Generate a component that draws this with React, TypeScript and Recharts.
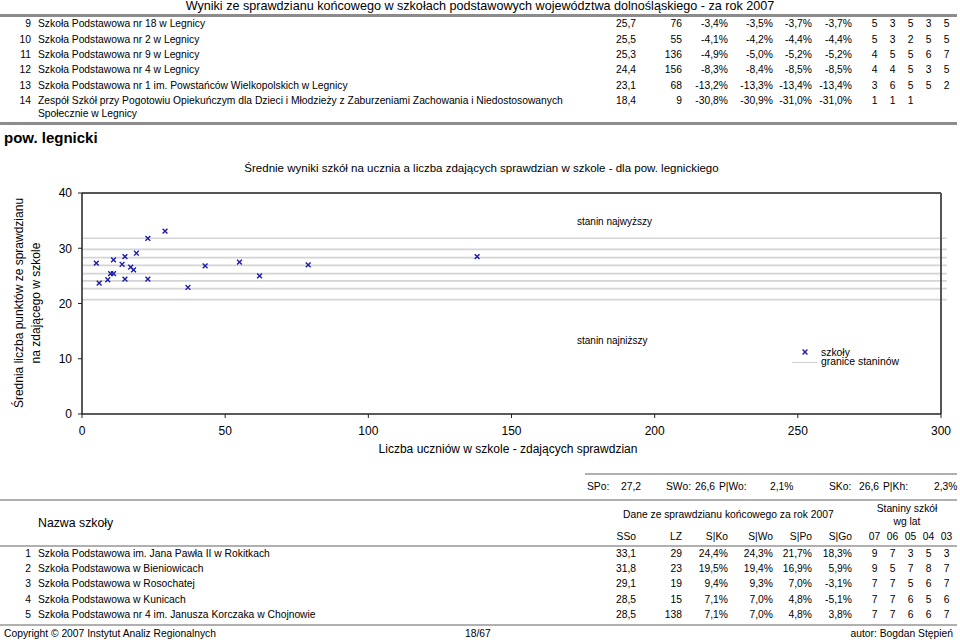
import React from 'react';
import { ScatterChart, Scatter, XAxis, YAxis, ReferenceLine } from 'recharts';

// chart data (pow. legnicki)
const pupils = [5, 6, 9, 10, 11, 11, 14, 15, 15, 17, 18, 19, 23, 23, 29, 37, 43, 55, 62, 79, 138];
const avgScore = [27.3, 23.7, 24.3, 25.4, 25.4, 27.9, 27.1, 28.5, 24.4, 26.6, 26.1, 29.1, 31.8, 24.4, 33.1, 22.9, 26.8, 27.5, 25.0, 27.0, 28.5];
const stanineBounds = [31.8, 29.8, 28.3, 26.9, 25.4, 24.1, 22.7, 20.7];
const xTicks = [0, 50, 100, 150, 200, 250, 300];
const yTicks = [0, 10, 20, 30, 40];

// tables
const topRows = [
    ['9', ['Szkoła Podstawowa nr 18 w Legnicy'], '25,7', '76', '-3,4%', '-3,5%', '-3,7%', '-3,7%', ['5', '3', '5', '3', '5']],
    ['10', ['Szkoła Podstawowa nr 2 w Legnicy'], '25,5', '55', '-4,1%', '-4,2%', '-4,4%', '-4,4%', ['5', '3', '2', '5', '5']],
    ['11', ['Szkoła Podstawowa nr 9 w Legnicy'], '25,3', '136', '-4,9%', '-5,0%', '-5,2%', '-5,2%', ['4', '5', '5', '6', '7']],
    ['12', ['Szkoła Podstawowa nr 4 w Legnicy'], '24,4', '156', '-8,3%', '-8,4%', '-8,5%', '-8,5%', ['4', '4', '5', '3', '5']],
    ['13', ['Szkoła Podstawowa nr 1 im. Powstańców Wielkopolskich w Legnicy'], '23,1', '68', '-13,2%', '-13,3%', '-13,4%', '-13,4%', ['3', '6', '5', '5', '2']],
    ['14', ['Zespół Szkół przy Pogotowiu Opiekuńczym dla Dzieci i Młodzieży z Zaburzeniami Zachowania i Niedostosowanych', 'Społecznie w Legnicy'], '18,4', '9', '-30,8%', '-30,9%', '-31,0%', '-31,0%', ['1', '1', '1']],
];
const topRowY = [24.3, 39.8, 55.2, 70.6, 86, 101.3];

const bottomRows = [
    ['1', ['Szkoła Podstawowa im. Jana Pawła II w Rokitkach'], '33,1', '29', '24,4%', '24,3%', '21,7%', '18,3%', ['9', '7', '3', '5', '3']],
    ['2', ['Szkoła Podstawowa w Bieniowicach'], '31,8', '23', '19,5%', '19,4%', '16,9%', '5,9%', ['9', '5', '7', '8', '7']],
    ['3', ['Szkoła Podstawowa w Rosochatej'], '29,1', '19', '9,4%', '9,3%', '7,0%', '-3,1%', ['7', '7', '5', '6', '7']],
    ['4', ['Szkoła Podstawowa w Kunicach'], '28,5', '15', '7,1%', '7,0%', '4,8%', '-5,1%', ['7', '7', '6', '5', '6']],
    ['5', ['Szkoła Podstawowa nr 4 im. Janusza Korczaka w Chojnowie'], '28,5', '138', '7,1%', '7,0%', '4,8%', '3,8%', ['7', '7', '6', '6', '7']],
];
const bottomRowY = [553.8, 569, 584.4, 599.7, 615.2];

const colHeads = ['SSo', 'LZ', 'S|Ko', 'S|Wo', 'S|Po', 'S|Go'];
const yearHeads = ['07', '06', '05', '04', '03'];
const summary = [
    ['SPo:', 587], ['27,2', 621], ['SWo:', 666], ['26,6', 695], ['P|Wo:', 719],
    ['2,1%', 770], ['SKo:', 829], ['26,6', 859], ['P|Kh:', 883], ['2,3%', 934],
];

const numColRight = [636, 682, 728, 773, 812, 852];
const stanColCenter = [874.5, 892.5, 910.5, 928.5, 946.5];

const FONT = '"Liberation Sans", Arial, Helvetica, sans-serif';
const BLUE = '#1c1ca8';

const T = ({ x, y, s = 10.3, a = 'start', b = false, lh = 1.2, children }: any) => {
    const style: any = {
        position: 'absolute',
        top: y - (s * lh) / 2,
        fontSize: s,
        lineHeight: `${s * lh}px`,
        whiteSpace: 'nowrap',
        fontWeight: b ? 'bold' : 'normal',
    };
    if (a === 'end') style.right = 960 - x;
    else style.left = x;
    if (a === 'middle') style.transform = 'translateX(-50%)';
    return <div style={style}>{children}</div>;
};

const HLine = ({ y, x1 = 0, x2 = 957, w = 1, c = '#a8a8a8' }: any) => (
    <div
        style={{
            position: 'absolute',
            left: x1,
            top: Math.round(y - w / 2),
            width: x2 - x1,
            height: 0,
            borderTop: `${w}px solid ${c}`,
            zIndex: 2,
        }}
    />
);

const Cross = (props: any) => {
    const { cx, cy } = props;
    const r = 2.4;
    return (
        <path
            d={`M${cx - r},${cy - r}L${cx + r},${cy + r}M${cx + r},${cy - r}L${cx - r},${cy + r}`}
            stroke={BLUE}
            strokeWidth={1.4}
            fill="none"
        />
    );
};

const Rows = ({ rows, ys }: any) => (
    <>
        {rows.map((r: any, i: number) => {
            const y = ys[i];
            return (
                <React.Fragment key={i}>
                    <T x={31} y={y} a="end">{r[0]}</T>
                    {r[1].map((line: string, j: number) => (
                        <T key={j} x={38} y={y + j * 12.5}>{line}</T>
                    ))}
                    {r.slice(2, 8).map((v: string, k: number) => (
                        <T key={'n' + k} x={numColRight[k]} y={y} a="end">{v}</T>
                    ))}
                    {r[8].map((v: string, k: number) => (
                        <T key={'s' + k} x={stanColCenter[k]} y={y} a="middle">{v}</T>
                    ))}
                </React.Fragment>
            );
        })}
    </>
);

export default function App() {
    const data = pupils.map((p, i) => ({ x: p, y: avgScore[i] }));
    const tick = { fontSize: 12, fill: '#000', fontFamily: FONT };

    return (
        <div style={{ position: 'absolute', left: 0, top: 0, width: 960, height: 642, background: '#fff', fontFamily: FONT, color: '#000', overflow: 'hidden' }}>
            {/* page header */}
            <T x={480} y={6.6} s={12.6} lh={1.05} a="middle">Wyniki ze sprawdzianu końcowego w szkołach podstawowych województwa dolnośląskiego - za rok 2007</T>
            <Rows rows={topRows} ys={topRowY} />

            <T x={4} y={138} s={15} b>pow. legnicki</T>

            {/* chart */}
            <div style={{ position: 'absolute', left: 0, top: 150 }}>
                <ScatterChart width={960} height={300} margin={{ top: 43, right: 19, bottom: 6, left: 42 }}>
                    <XAxis
                        type="number"
                        dataKey="x"
                        domain={[0, 300]}
                        ticks={xTicks}
                        height={30}
                        tickSize={4}
                        tickMargin={8}
                        tick={tick}
                        axisLine={{ stroke: '#222', strokeWidth: 1.5 }}
                        tickLine={{ stroke: '#222' }}
                        allowDataOverflow
                    />
                    <YAxis
                        type="number"
                        dataKey="y"
                        domain={[0, 40]}
                        ticks={yTicks}
                        width={40}
                        tickSize={4}
                        tickMargin={6}
                        tick={tick}
                        axisLine={{ stroke: '#222', strokeWidth: 1.5 }}
                        tickLine={{ stroke: '#222' }}
                        allowDataOverflow
                    />
                    {stanineBounds.map((b) => (
                        <ReferenceLine
                            key={b}
                            segment={[{ x: 0, y: b }, { x: 302, y: b }]}
                            ifOverflow="visible"
                            stroke="#d4d4d4"
                            strokeWidth={1.6}
                        />
                    ))}
                    <ReferenceLine y={40} stroke="#555" strokeWidth={2} />
                    <ReferenceLine x={300} stroke="#555" strokeWidth={2} />
                    <Scatter data={data} shape={<Cross />} isAnimationActive={false} />
                </ScatterChart>
            </div>

            <T x={481.5} y={169} s={11.5} a="middle">Średnie wyniki szkół na ucznia a liczba zdających sprawdzian w szkole - dla pow. legnickiego</T>
            <T x={508} y={449} s={12} a="middle">Liczba uczniów w szkole - zdających sprawdzian</T>
            {[['Średnia liczba punktów ze sprawdzianu', 19], ['na zdającego w szkole', 36]].map(([txt, cx]: any) => (
                <div key={txt} style={{ position: 'absolute', left: cx, top: 303, fontSize: 12, lineHeight: '14px', whiteSpace: 'nowrap', transform: 'translate(-50%, -50%) rotate(-90deg)' }}>{txt}</div>
            ))}
            <T x={577} y={222} s={10}>stanin najwyższy</T>
            <T x={577} y={341} s={10}>stanin najniższy</T>

            {/* legend */}
            <svg style={{ position: 'absolute', left: 801, top: 348 }} width={8} height={8}>
                <Cross cx={4} cy={4} />
            </svg>
            <div style={{ position: 'absolute', left: 792, top: 361.5, width: 25, height: 1, background: '#cfcfcf' }} />
            <T x={821} y={353} s={10.4}>szkoły</T>
            <T x={821} y={362.5} s={10.4}>granice staninów</T>

            {/* lower table */}
            {summary.map(([txt, x]: any, i) => (
                <T key={i} x={x} y={487}>{txt}</T>
            ))}
            <T x={38} y={523} s={12.3}>Nazwa szkoły</T>
            <T x={623} y={515}>Dane ze sprawdzianu końcowego za rok 2007</T>
            <T x={907} y={509} a="middle">Staniny szkół</T>
            <T x={907} y={522} a="middle">wg lat</T>
            {colHeads.map((h, k) => (
                <T key={h} x={numColRight[k]} y={537.5} a="end">{h}</T>
            ))}
            {yearHeads.map((h, k) => (
                <T key={h} x={stanColCenter[k]} y={537.5} a="middle">{h}</T>
            ))}
            <Rows rows={bottomRows} ys={bottomRowY} />

            {/* footer */}
            <T x={4} y={634}>Copyright © 2007 Instytut Analiz Regionalnych</T>
            <T x={465} y={634}>18/67</T>
            <T x={953} y={634} a="end">autor: Bogdan Stępień</T>

            {/* rules */}
            <HLine y={15} w={3} c="#8c8c8c" />
            <HLine y={123} w={3} c="#8c8c8c" />
            <HLine y={474} x1={585} w={2} c="#b0b0b0" />
            <HLine y={500} w={2} c="#b0b0b0" />
            <HLine y={545.5} w={2} c="#b0b0b0" />
            <HLine y={625} w={2} c="#b0b0b0" />
        </div>
    );
}
